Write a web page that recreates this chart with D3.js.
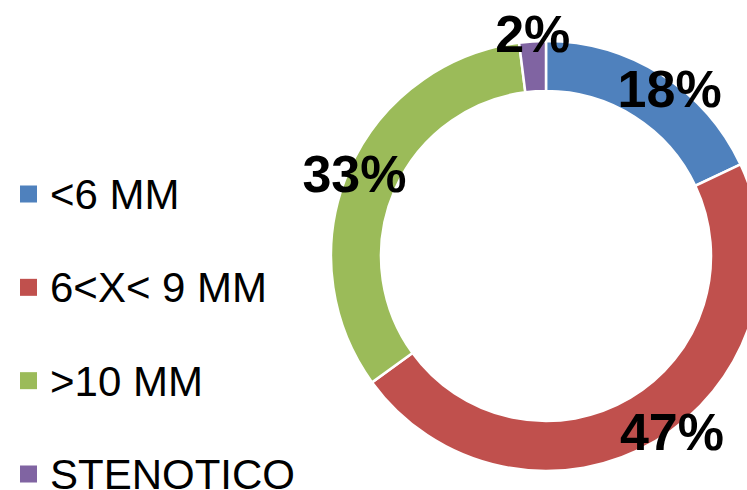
<!DOCTYPE html>
<html>
<head>
<meta charset="utf-8">
<script src="https://cdn.jsdelivr.net/npm/d3@7"></script>
<style>
  body { margin: 0; background: #fff; }
  svg { display: block; font-family: Arial, "Liberation Sans", sans-serif; }
</style>
</head>
<body>
<svg id="chart" width="747" height="490"></svg>
<script>
// Chart data
const categories = ['<6 MM', '6<X< 9 MM', '>10 MM', 'STENOTICO'];
const values = [18, 47, 33, 2];
const labels = ['18%', '47%', '33%', '2%'];
const colors = ['#4F81BD', '#C0504D', '#9BBB59', '#8064A2'];

const svg = d3.select('#chart');

// Donut geometry
const cx = 546, cy = 256;
const outerR = 215, innerR = 165;

const pie = d3.pie().sort(null).value(d => d);
const arcs = pie(values);

const arc = d3.arc().innerRadius(innerR).outerRadius(outerR);
const labelArc = d3.arc().innerRadius(212).outerRadius(212);

// small "best fit" nudges for the data labels, like the spreadsheet does
const labelShift = [[10, 11], [18, -7], [3, 1], [0, -11]];

const g = svg.append('g').attr('transform', `translate(${cx},${cy})`);

g.selectAll('path')
    .data(arcs)
    .enter().append('path')
    .attr('d', arc)
    .attr('fill', (d, i) => colors[i])
    .attr('stroke', '#fff')
    .attr('stroke-width', 2.5);

// Percentage labels
g.selectAll('text')
    .data(arcs)
    .enter().append('text')
    .attr('x', (d, i) => labelArc.centroid(d)[0] + labelShift[i][0])
    .attr('y', (d, i) => labelArc.centroid(d)[1] + labelShift[i][1])
    .attr('dy', '0.36em')
    .attr('text-anchor', 'middle')
    .style('font-size', '52px')
    .style('font-weight', 'bold')
    .style('fill', '#000')
    .text((d, i) => labels[i]);

// Legend
const legendY = d3.scalePoint().domain(categories).range([194, 474]);

const legend = svg.append('g')
    .selectAll('g')
    .data(categories)
    .enter().append('g')
    .attr('transform', d => `translate(20,${legendY(d)})`);

legend.append('rect')
    .attr('x', 0)
    .attr('y', -8.5)
    .attr('width', 17)
    .attr('height', 17)
    .attr('fill', (d, i) => colors[i]);

legend.append('text')
    .attr('x', 30)
    .attr('y', 0)
    .attr('dy', '0.36em')
    .style('font-size', '42px')
    .style('fill', '#000')
    .text(d => d);
</script>
</body>
</html>
